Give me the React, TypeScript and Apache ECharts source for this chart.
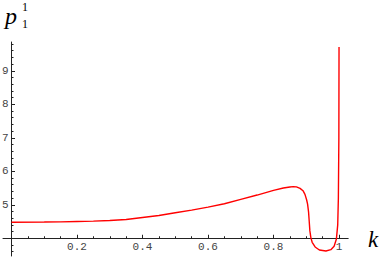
import React, { useEffect, useRef } from "react";
import * as echarts from "echarts";

// Curve p_1^1(k)
const kValues = [
  0, 0.1, 0.15, 0.2, 0.25, 0.3, 0.35, 0.4, 0.45, 0.5, 0.55, 0.6, 0.65, 0.7,
  0.75, 0.8, 0.83, 0.85, 0.86, 0.87, 0.881, 0.89, 0.896, 0.901, 0.904, 0.907,
  0.909, 0.911, 0.914, 0.918, 0.927, 0.94, 0.96, 0.975, 0.985, 0.992, 0.996,
  0.998, 0.9995, 1.0,
];
const pValues = [
  4.48, 4.485, 4.49, 4.5, 4.51, 4.53, 4.56, 4.62, 4.68, 4.76, 4.84, 4.93,
  5.03, 5.16, 5.29, 5.43, 5.5, 5.53, 5.54, 5.535, 5.49, 5.42, 5.31, 5.15,
  5.02, 4.78, 4.5, 4.22, 4.02, 3.88, 3.74, 3.65, 3.62, 3.66, 3.76, 3.98, 4.4,
  5.2, 7.0, 9.71,
];

const xMajorTicks = [0.2, 0.4, 0.6, 0.8, 1];
const xMinorTicks = [
  0.05, 0.1, 0.15, 0.25, 0.3, 0.35, 0.45, 0.5, 0.55, 0.65, 0.7, 0.75, 0.85,
  0.9, 0.95,
];
const yMajorTicks = [5, 6, 7, 8, 9];
const yMinorTicks = [
  3.6, 3.8, 4.2, 4.4, 4.6, 4.8, 5.2, 5.4, 5.6, 5.8, 6.2, 6.4, 6.6, 6.8, 7.2,
  7.4, 7.6, 7.8, 8.2, 8.4, 8.6, 8.8, 9.2, 9.4, 9.6, 9.8,
];
const xRange = [-0.026, 1.028];
const yRange = [3.47, 9.86];
const yCross = 4; // the k axis crosses the p axis at p = 4

const AXIS_COLOR = "#222";
const LABEL_FONT = "Liberation Mono";

// pixel frame of the plotted area
const PX_LEFT = 3;
const PX_TOP = 42;
const PX_W = 345.2;
const PX_H = 214;

export default function App() {
  const ref = useRef<HTMLDivElement>(null);
  useEffect(() => {
    if (!ref.current) return;
    const chart = echarts.init(ref.current, null, { renderer: "svg" });
    const shift = (v: number) => +(v - yCross).toFixed(6);
    const data = kValues.map((k, i) => [k, shift(pValues[i])]);
    const tickStyle = { color: AXIS_COLOR, width: 1 };
    const xUnit = PX_W / (xRange[1] - xRange[0]);
    const yUnit = PX_H / (yRange[1] - yRange[0]);
    const crossLeft = PX_LEFT + (0 - xRange[0]) * xUnit;
    const crossBottom = PX_TOP + (yRange[1] - yCross) * yUnit;
    const labelStyle = {
      fontFamily: LABEL_FONT,
      fontSize: 11,
      color: "#444",
      margin: 3,
    };
    chart.setOption({
      animation: false,
      grid: [
        {
          left: PX_LEFT,
          top: PX_TOP,
          width: PX_W,
          height: PX_H,
          containLabel: false,
          outerBoundsMode: "none",
        },
        {
          left: crossLeft,
          top: PX_TOP,
          width: PX_LEFT + PX_W - crossLeft,
          height: crossBottom - PX_TOP,
          containLabel: false,
          outerBoundsMode: "none",
        },
      ],
      xAxis: [
        {
          type: "value",
          gridIndex: 0,
          min: xRange[0],
          max: xRange[1],
          position: "bottom",
          axisLine: { onZero: true, onZeroAxisIndex: 0, lineStyle: tickStyle },
          axisTick: { show: true, inside: true, length: 3.5, customValues: xMajorTicks, lineStyle: tickStyle },
          axisLabel: { show: false },
          splitLine: { show: false },
        },
        {
          type: "value",
          gridIndex: 0,
          min: xRange[0],
          max: xRange[1],
          position: "top",
          axisLine: { show: false, onZero: true, onZeroAxisIndex: 0 },
          axisTick: { show: true, inside: false, length: 2, customValues: xMinorTicks, lineStyle: tickStyle },
          axisLabel: { show: false },
          splitLine: { show: false },
        },
        {
          type: "value",
          gridIndex: 1,
          min: 0,
          max: xRange[1],
          position: "bottom",
          axisLine: { show: false, onZero: false },
          axisTick: { show: false },
          axisLabel: {
            ...labelStyle,
            customValues: xMajorTicks,
            formatter: (v: number) => (Math.abs(v - 1) < 1e-9 ? "1" : v.toFixed(1)),
          },
          splitLine: { show: false },
        },
      ],
      yAxis: [
        {
          type: "value",
          gridIndex: 0,
          min: shift(yRange[0]),
          max: shift(yRange[1]),
          position: "left",
          axisLine: { onZero: true, onZeroAxisIndex: 0, lineStyle: tickStyle },
          axisTick: { show: true, inside: true, length: 3.5, customValues: yMajorTicks.map(shift), lineStyle: tickStyle },
          axisLabel: { show: false },
          splitLine: { show: false },
        },
        {
          type: "value",
          gridIndex: 0,
          min: shift(yRange[0]),
          max: shift(yRange[1]),
          position: "right",
          axisLine: { show: false, onZero: true, onZeroAxisIndex: 0 },
          axisTick: { show: true, inside: false, length: 2, customValues: yMinorTicks.map(shift), lineStyle: tickStyle },
          axisLabel: { show: false },
          splitLine: { show: false },
        },
        {
          type: "value",
          gridIndex: 1,
          min: yCross,
          max: yRange[1],
          position: "left",
          axisLine: { show: false, onZero: false },
          axisTick: { show: false },
          axisLabel: {
            ...labelStyle,
            customValues: yMajorTicks,
            formatter: (v: number) => String(Math.round(v)),
          },
          splitLine: { show: false },
        },
      ],
      series: [
        {
          type: "line",
          xAxisIndex: 0,
          yAxisIndex: 0,
          data,
          showSymbol: false,
          symbol: "none",
          smooth: false,
          lineStyle: { color: "#ff0000", width: 1.4 },
        },
      ],
      graphic: [
        {
          type: "text",
          x: 11,
          y: 16,
          style: { text: "p", font: 'italic 24px "Liberation Serif"', fill: "#000", align: "center", verticalAlign: "middle" },
        },
        {
          type: "text",
          x: 25,
          y: 7,
          style: { text: "1", font: '12px "Liberation Serif"', fill: "#000", align: "center", verticalAlign: "middle" },
        },
        {
          type: "text",
          x: 25,
          y: 23.5,
          style: { text: "1", font: '12px "Liberation Serif"', fill: "#000", align: "center", verticalAlign: "middle" },
        },
        {
          type: "text",
          x: 373,
          y: 239,
          style: { text: "k", font: 'italic 23px "Liberation Serif"', fill: "#000", align: "center", verticalAlign: "middle" },
        },
      ],
    });
    return () => chart.dispose();
  }, []);
  return (
    <div
      ref={ref}
      style={{ position: "fixed", left: 0, top: 0, width: 390, height: 257, background: "#fff" }}
    />
  );
}
